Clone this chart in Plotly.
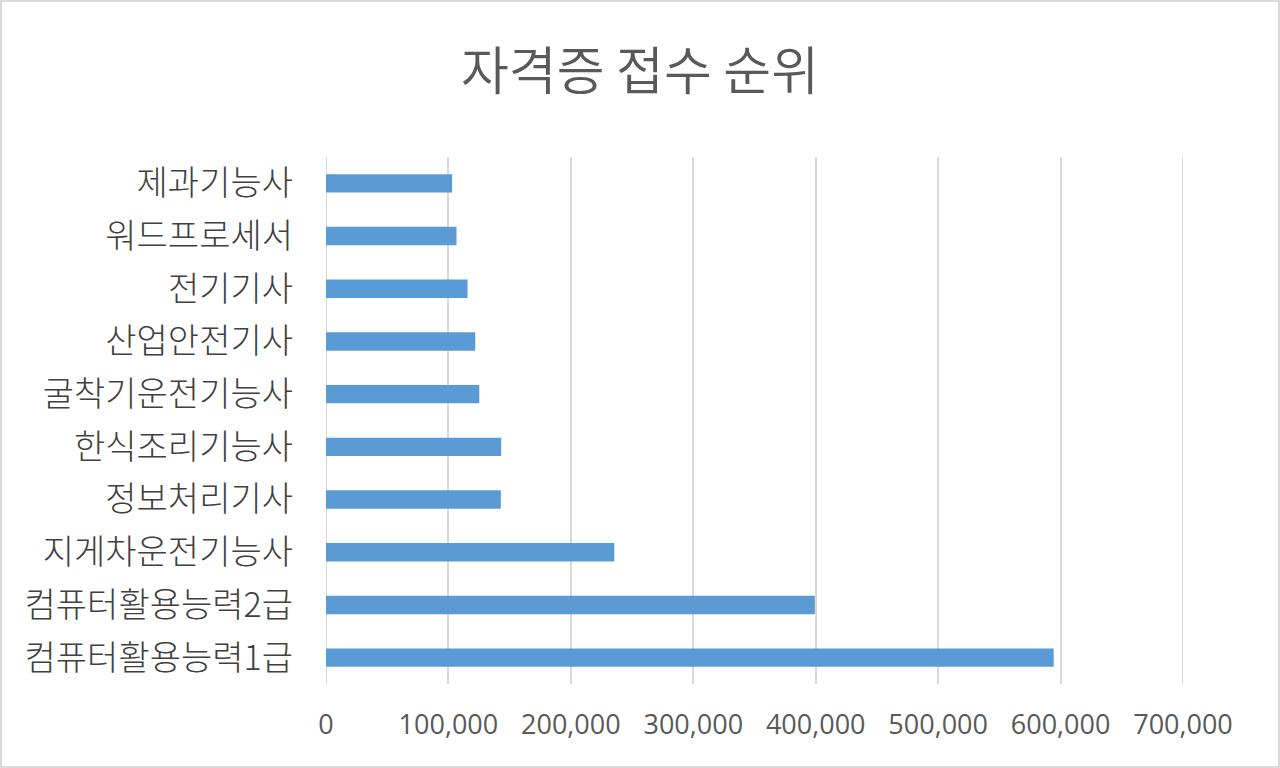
import plotly.graph_objects as go

# 자격증 접수 순위 (아래에서 위로)
certs = ["컴퓨터활용능력1급", "컴퓨터활용능력2급", "지게차운전기능사", "정보처리기사",
         "한식조리기능사", "굴착기운전기능사", "산업안전기사", "전기기사",
         "워드프로세서", "제과기능사"]
applicants = [594400, 399300, 235500, 142800, 143100, 125200, 121900, 115600, 106600, 103000]
x_ticks = [0, 100000, 200000, 300000, 400000, 500000, 600000, 700000]

W, H = 1280, 768
L, R, T, B = 326, 97, 157, 84
pw, ph = W - L - R, H - T - B

fig = go.Figure()
fig.add_trace(go.Bar(
    y=certs, x=applicants, orientation="h",
    marker=dict(color="#5b9bd5", line=dict(width=0)),
    width=0.35,
))

edge_lines = [dict(type="line", xref="x", yref="paper", x0=v, x1=v, y0=0, y1=1,
                   line=dict(color="#d9d9d9", width=2), layer="below")
              for v in (x_ticks[0], x_ticks[-1])]

fig.update_layout(
    width=W, height=H,
    margin=dict(l=L, r=R, t=T, b=B, autoexpand=False),
    paper_bgcolor="white", plot_bgcolor="white",
    showlegend=False,
    title=dict(text="자격증 접수 순위", x=0.5, xref="container", xanchor="center",
               y=1 - 72 / H, yref="container", yanchor="middle",
               font=dict(family="Noto Sans CJK KR", size=52, color="#595959", weight=350)),
    font=dict(family="Noto Sans CJK KR", color="#595959"),
    xaxis=dict(range=[0, 700000], tickvals=x_ticks, tickformat=",",
               showgrid=True, gridcolor="#d9d9d9", gridwidth=2,
               zeroline=False, showline=False, ticks="", automargin=False,
               tickfont=dict(family="Open Sans", size=27, color="#595959"),
               ticklabelstandoff=22),
    yaxis=dict(showgrid=False, zeroline=False, showline=False, ticks="", automargin=False,
               tickfont=dict(family="Noto Sans CJK KR", size=34, color="#404040", weight=300),
               ticklabelstandoff=32),
    shapes=edge_lines + [
        dict(type="rect", xref="paper", yref="paper",
             x0=(1 - L) / pw, x1=(W - 1 - L) / pw,
             y0=-(B - 1) / ph, y1=1 + (T - 1) / ph,
             line=dict(color="#d9d9d9", width=2)),
    ],
)

fig.write_html("out.html", config={"displayModeBar": False},
               post_script="document.body.style.margin='0';")
